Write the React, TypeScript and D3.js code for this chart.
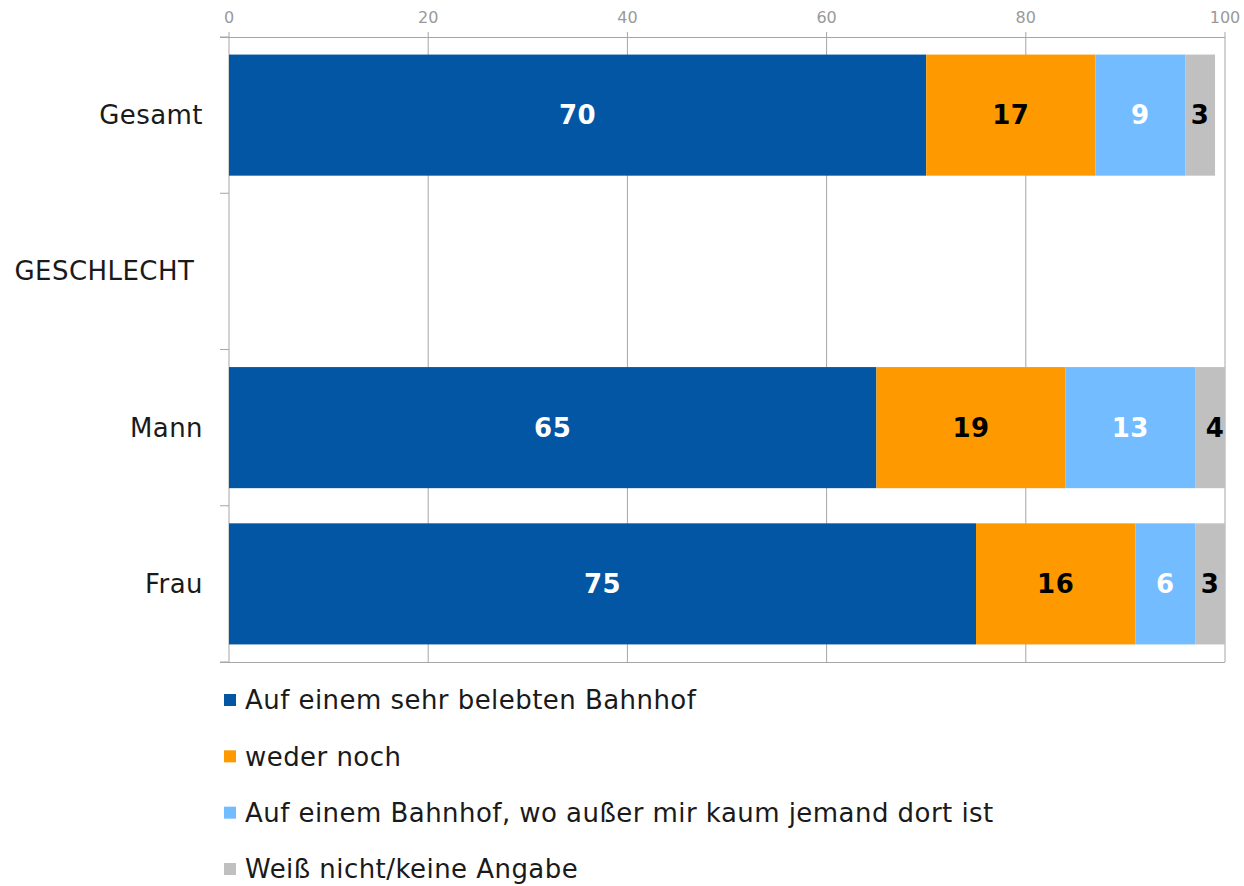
import React from 'react';
import * as d3 from 'd3';

const categories = ['Gesamt', 'GESCHLECHT', 'Mann', 'Frau'];
const seriesNames = [
  'Auf einem sehr belebten Bahnhof',
  'weder noch',
  'Auf einem Bahnhof, wo außer mir kaum jemand dort ist',
  'Weiß nicht/keine Angabe',
];
const colors = ['#0256a3', '#ff9900', '#73bcff', '#c0c0c0'];
const labelColors = ['#ffffff', '#000000', '#ffffff', '#000000'];

// values per category, null = heading row without bars
const gesamtValues = [70, 17, 9, 3];
const geschlechtValues: number[] | null = null;
const mannValues = [65, 19, 13, 4];
const frauValues = [75, 16, 6, 3];
const rowValues = [gesamtValues, geschlechtValues, mannValues, frauValues];

const xTicks = [0, 20, 40, 60, 80, 100];

const width = 1244;
const height = 886;
const font = '"DejaVu Sans", Verdana, sans-serif';

export default function App() {
  const x = d3.scaleLinear().domain([0, 100]).range([229, 1225]);
  const xc = x.copy().clamp(true);
  const y = d3
    .scaleBand<string>()
    .domain(categories)
    .range([37, 662])
    .paddingInner(0.225)
    .paddingOuter(0.1125);

  const step = y.step();
  const boundaries = d3.range(categories.length + 1).map((i) => 37 + i * step);

  const legendY = d3
    .scalePoint<string>()
    .domain(seriesNames)
    .range([700, 869]);

  return (
    <svg
      width={width}
      height={height}
      style={{ position: 'absolute', left: 0, top: 0, background: '#fff' }}
    >
      {/* gridlines */}
      {xTicks.map((t) => (
        <g key={t}>
          <line x1={x(t)} x2={x(t)} y1={32} y2={662} stroke="#a6a6a6" strokeWidth={1} />
          <text
            x={x(t)}
            y={23}
            textAnchor="middle"
            fontFamily={font}
            fontSize={16}
            fill="#9a9a9a"
          >
            {t}
          </text>
        </g>
      ))}
      {/* axes */}
      <line x1={220} x2={x(100)} y1={37.5} y2={37.5} stroke="#a6a6a6" />
      <line x1={220} x2={x(100)} y1={662.5} y2={662.5} stroke="#a6a6a6" />
      {boundaries.map((b, i) => (
        <line key={i} x1={220} x2={x(0)} y1={b} y2={b} stroke="#a6a6a6" />
      ))}

      {/* bars */}
      {categories.map((c, ci) => {
        const vals = rowValues[ci];
        const y0 = y(c)!;
        const bw = y.bandwidth();
        return (
          <g key={c}>
            <text
              x={203}
              y={y0 + bw / 2}
              dy="0.35em"
              textAnchor="end"
              fontFamily={font}
              fontSize={26}
              letterSpacing={0.45}
              fill="#1a1a1a"
            >
              {c === 'GESCHLECHT' ? c + '\u00a0' : c}
            </text>
            {vals &&
              vals.map((v, i) => {
                const start = d3.sum(vals.slice(0, i));
                const end = start + v;
                return (
                  <g key={i}>
                    <rect
                      x={xc(start)}
                      y={y0}
                      width={Math.max(0, xc(end) - xc(start))}
                      height={bw}
                      fill={colors[i]}
                    />
                    <text
                      x={x(start + v / 2)}
                      y={y0 + bw / 2}
                      dy="0.36em"
                      textAnchor="middle"
                      fontFamily={font}
                      fontWeight="bold"
                      fontSize={26}
                      letterSpacing={0.5}
                      fill={labelColors[i]}
                    >
                      {v}
                    </text>
                  </g>
                );
              })}
          </g>
        );
      })}

      {/* legend */}
      {seriesNames.map((s, i) => (
        <g key={s} transform={`translate(224,${legendY(s)})`}>
          <rect x={0} y={-6} width={12} height={12} fill={colors[i]} />
          <text
            x={21}
            y={0}
            dy="0.36em"
            fontFamily={font}
            fontSize={26}
            letterSpacing={0.45}
            fill="#1a1a1a"
          >
            {s}
          </text>
        </g>
      ))}
    </svg>
  );
}
